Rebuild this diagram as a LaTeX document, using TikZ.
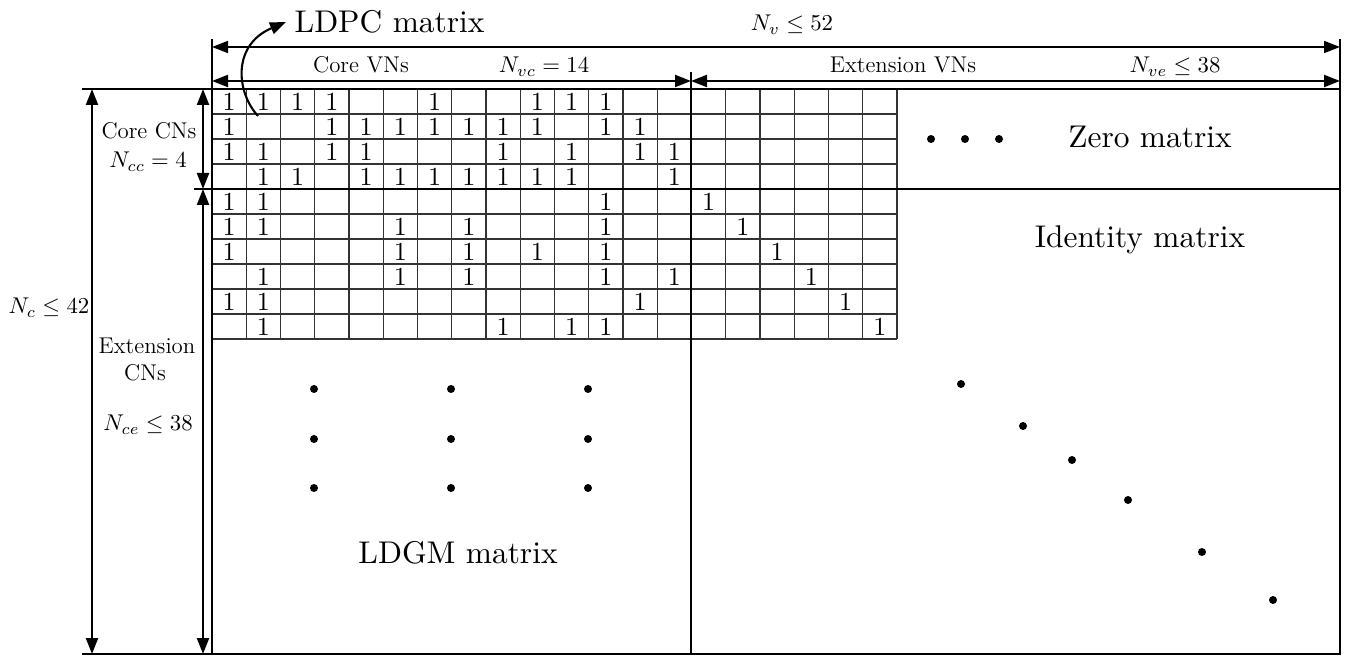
\RequirePackage{fix-cm}
\documentclass[tikz,border=0pt]{standalone}
\usetikzlibrary{arrows.meta}
\begin{document}
\begin{tikzpicture}[x=0.5pt,y=-0.5pt,
  frameline/.style={line width=1.45pt,line cap=rect},
  gridline/.style={line width=0.6pt,black!80},
  tip/.tip={Triangle[length=8pt,width=6pt]},
  dimline/.style={line width=1.05pt,tip-tip},
  dimthin/.style={line width=0.8pt,tip-tip},
  big/.style={inner sep=0pt,font=\fontsize{10}{12}\selectfont,scale=1.57},
  small/.style={inner sep=0pt,font=\fontsize{11.4}{13.5}\selectfont,anchor=base},
  one/.style={inner sep=0pt,font=\fontsize{10}{12}\selectfont,scale=1.3},
  dotmark/.style={circle,fill=black,inner sep=0pt,minimum size=4pt}
]
\useasboundingbox (0,0) rectangle (1348,656);

% frame coordinates
\coordinate (TL) at (212,89);
\coordinate (TR) at (1340,89);
\coordinate (BL) at (212,654);
\coordinate (BR) at (1340,654);
\coordinate (LT) at (212,40);
\coordinate (RT) at (1340,40);
\coordinate (OL) at (83,89);
\coordinate (OLB) at (83,654);
\coordinate (MT) at (691,89);
\coordinate (MB) at (691,654);
\coordinate (HL) at (195,189);
\coordinate (HR) at (1340,189);
\coordinate (TickT) at (691,72);

% thin grid
\foreach \j in {0,...,10}
  \draw[gridline] (212,{89+25*\j}) -- (897,{89+25*\j});
\foreach \i in {0,...,20}
  \draw[gridline] ({212+34.25*\i},89) -- ({212+34.25*\i},339);

% entries
\foreach \r/\cols in {1/{1,2,3,4,7,10,11,12},
                      2/{1,4,5,6,7,8,9,10,12,13},
                      3/{1,2,4,5,9,11,13,14},
                      4/{2,3,5,6,7,8,9,10,11,14},
                      5/{1,2,12,15},
                      6/{1,2,6,8,12,16},
                      7/{1,6,8,10,12,17},
                      8/{2,6,8,12,14,18},
                      9/{1,2,13,19},
                      10/{2,9,11,12,20}}
  \foreach \c in \cols
    \node[one] (e\r-\c) at ({212+34.25*(\c-0.5)},{89+25*(\r-0.5)+0.8}) {1};

% thick lines
\draw[frameline] (OL) -- (TR);
\draw[frameline] (OLB) -- (BR);
\draw[frameline] (LT) -- (BL);
\draw[frameline] (RT) -- (BR);
\draw[frameline] (MT) -- (MB);
\draw[frameline] (HL) -- (HR);
\draw[line width=1.05pt] (TickT) -- (MT);

% dimension arrows
\coordinate (nvL) at (212,47);
\coordinate (nvR) at (1340,47);
\coordinate (vcL) at (212,81);
\coordinate (vcR) at (691,81);
\coordinate (veR) at (1340,81);
\coordinate (ncT) at (92,89);
\coordinate (ncB) at (92,654);
\coordinate (ccT) at (203,89);
\coordinate (ccB) at (203,189);
\coordinate (ceB) at (203,654);
\draw[dimthin] (nvL) -- (nvR);
\draw[dimline] (vcL) -- (vcR);
\draw[dimline] (vcR) -- (veR);
\draw[dimline] (ncT) -- (ncB);
\draw[dimline] (ccT) -- (ccB);
\draw[dimline] (ccB) -- (ceB);

% labels
\node[big,anchor=west] (ldpc) at (294,22) {LDPC matrix};
\coordinate (ldpcfoot) at (258,116);
\draw[line width=1.05pt,-tip] (ldpcfoot) .. controls (236,92) and (232,45) .. ([xshift=-4pt]ldpc.west);

\node[small] (nv) at (792,31) {$N_v \leq 52$};
\node[small] (corevn) at (361,73) {Core VNs};
\node[small] (nvc) at (544,73) {$N_{vc} = 14$};
\node[small] (extvn) at (903,73) {Extension VNs};
\node[small] (nve) at (1175,73) {$N_{ve} \leq 38$};

\node[small] (corecn) at (149,139) {Core CNs};
\node[small] (ncc) at (148,168) {$N_{cc} = 4$};
\node[small] (nc) at (49,314) {$N_c \leq 42$};
\node[small] (extcn1) at (147,354) {Extension};
\node[small] (extcn2) at (145,381) {CNs};
\node[small] (nce) at (148,431) {$N_{ce} \leq 38$};

\node[big,anchor=base] (zero) at (1150,148) {Zero matrix};
\node[big,anchor=base] (ident) at (1140,248) {Identity matrix};
\node[big,anchor=base] (ldgm) at (458,564) {LDGM matrix};

% dots
\foreach \x/\n in {931/a,965/b,999/c}
  \node[dotmark] (z\n) at (\x,139) {};
\foreach \x/\n in {314/a,451/b,588/c}
  \foreach \y/\m in {389/a,439/b,488/c}
    \node[dotmark] (g\n\m) at (\x,\y) {};
\foreach \x/\y/\n in {961/384/a,1023/426/b,1072/460/c,1128/500/d,1202/552/e,1273/600/f}
  \node[dotmark] (i\n) at (\x,\y) {};
\end{tikzpicture}
\end{document}
